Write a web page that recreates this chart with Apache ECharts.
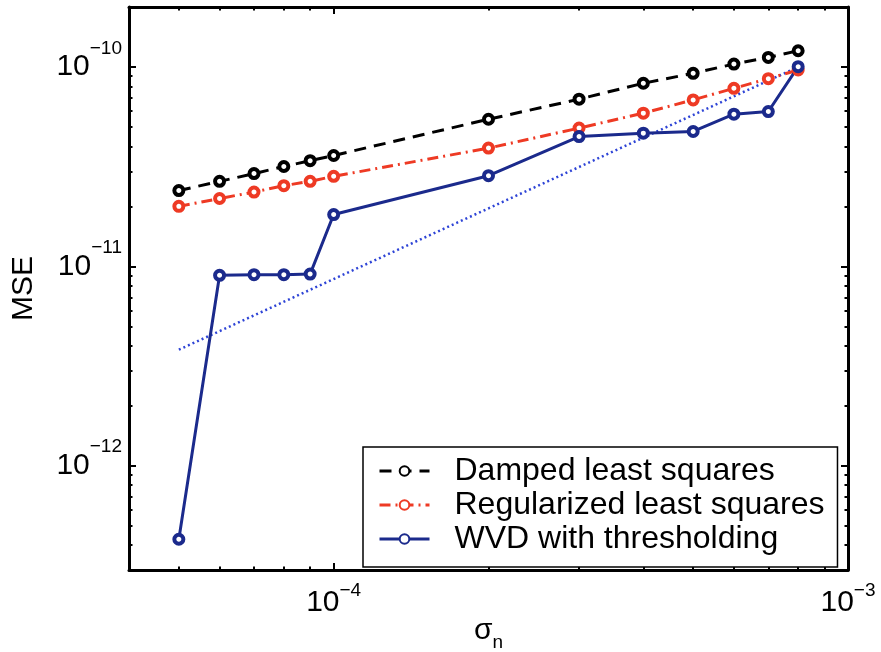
<!DOCTYPE html>
<html>
<head>
<meta charset="utf-8">
<script src="https://cdn.jsdelivr.net/npm/echarts@6/dist/echarts.min.js"></script>
<style>
  html, body { margin: 0; padding: 0; background: #fff; }
  #chart { width: 881px; height: 652px; }
</style>
</head>
<body>
<div id="chart"></div>
<script>
// Noise level sigma_n and the mean squared error of each estimator
const sigma = [5e-5, 6e-5, 7e-5, 8e-5, 9e-5, 1e-4, 2e-4, 3e-4, 4e-4, 5e-4, 6e-4, 7e-4, 8e-4];
const dampedMSE = [2.40e-11, 2.67e-11, 2.92e-11, 3.17e-11, 3.39e-11, 3.60e-11, 5.47e-11, 6.90e-11, 8.29e-11, 9.30e-11, 1.035e-10, 1.117e-10, 1.207e-10];
const regularizedMSE = [2.00e-11, 2.19e-11, 2.36e-11, 2.54e-11, 2.67e-11, 2.83e-11, 3.92e-11, 4.94e-11, 5.87e-11, 6.84e-11, 7.82e-11, 8.74e-11, 9.66e-11];
const wvdMSE = [4.28e-13, 9.02e-12, 9.09e-12, 9.09e-12, 9.15e-12, 1.82e-11, 2.85e-11, 4.48e-11, 4.66e-11, 4.75e-11, 5.80e-11, 5.98e-11, 1.004e-10];

// Dotted reference trend (end points)
const trendX = [5e-5, 8e-4];
const trendY = [3.82e-12, 1.0e-10];

// Axis extents and labelled decades
const xRange = [4e-5, 1e-3];
const yRange = [3e-13, 2e-10];
const xTickLabels = [1e-4, 1e-3];
const yTickLabels = [1e-12, 1e-11, 1e-10];

const seriesNames = ['Damped least squares', 'Regularized least squares', 'WVD with thresholding'];
const seriesColors = ['#000000', '#ee3a24', '#1b2a8c'];

const FONT = '"Liberation Sans", Arial, Helvetica, sans-serif';

// 2..9 × 10^d positions inside an extent, for the minor log ticks
function minorTicks(range) {
  const out = [];
  const d0 = Math.floor(Math.log10(range[0]));
  const d1 = Math.ceil(Math.log10(range[1]));
  for (let d = d0; d < d1; d++) {
    for (let k = 2; k <= 9; k++) {
      const v = k * Math.pow(10, d);
      if (v > range[0] * 1.0001 && v < range[1] * 0.9999) out.push(v);
    }
  }
  return out;
}

function powerLabel(value) {
  const e = Math.round(Math.log10(value));
  return '{b|10}{s|' + (e < 0 ? '\u2212' + (-e) : e) + '}';
}

const frameLine = { show: true, onZero: false, lineStyle: { color: '#000', width: 3 } };
const noLine = { show: false, onZero: false };

function logAxis(range, position, tickValues, tickLen, withLine, label, extra) {
  return Object.assign({
    type: 'log',
    logBase: 10,
    min: range[0],
    max: range[1],
    position: position,
    axisLine: withLine ? frameLine : noLine,
    axisTick: {
      show: true,
      inside: true,
      length: tickLen,
      customValues: tickValues,
      lineStyle: { color: '#000', width: 2 }
    },
    axisLabel: label || { show: false },
    splitLine: { show: false },
    minorTick: { show: false },
    minorSplitLine: { show: false }
  }, extra || {});
}

const xLabel = {
  show: true,
  customValues: xTickLabels,
  margin: 11,
  formatter: powerLabel,
  rich: {
    b: { fontSize: 30, lineHeight: 44, fontFamily: FONT, color: '#000' },
    s: { fontSize: 19, lineHeight: 20, verticalAlign: 'top', fontFamily: FONT, color: '#000' }
  }
};

const yLabel = {
  show: true,
  customValues: yTickLabels,
  margin: 7,
  formatter: powerLabel,
  rich: {
    b: { fontSize: 30, lineHeight: 56, fontFamily: FONT, color: '#000' },
    s: { fontSize: 19, lineHeight: 20, verticalAlign: 'top', fontFamily: FONT, color: '#000' }
  }
};

const minorX = minorTicks(xRange);
const minorY = minorTicks(yRange);

function estimatorSeries(i, values, dash) {
  return {
    type: 'line',
    name: seriesNames[i],
    data: sigma.map((x, k) => [x, values[k]]),
    symbol: 'circle',
    symbolSize: 9,
    z: 3,
    itemStyle: { color: '#fff', borderColor: seriesColors[i], borderWidth: 4 },
    lineStyle: { color: seriesColors[i], width: 3, type: dash }
  };
}

const option = {
  animation: false,
  backgroundColor: '#fff',
  grid: { left: 129, right: 33, top: 7, bottom: 82, containLabel: false, outerBoundsMode: 'none' },
  xAxis: [
    logAxis(xRange, 'bottom', xTickLabels, 7, true, xLabel, {
      name: '{a|\u03c3}{n|n}',
      nameLocation: 'middle',
      nameGap: 46,
      nameMoveOverlap: false,
      nameTextStyle: {
        rich: {
          a: { fontSize: 30, lineHeight: 30, verticalAlign: 'top', fontFamily: FONT, color: '#000' },
          n: { fontSize: 19, verticalAlign: 'bottom', padding: [17, 0, 0, 0], fontFamily: FONT, color: '#000' }
        }
      }
    }),
    logAxis(xRange, 'bottom', minorX, 3.5, false),
    logAxis(xRange, 'top', xTickLabels, 7, true),
    logAxis(xRange, 'top', minorX, 3.5, false)
  ],
  yAxis: [
    logAxis(yRange, 'left', yTickLabels, 7, true, yLabel, {
      name: 'MSE',
      nameLocation: 'middle',
      nameGap: 90,
      nameMoveOverlap: false,
      nameTextStyle: { fontSize: 30, lineHeight: 30, fontFamily: FONT, color: '#000' }
    }),
    logAxis(yRange, 'left', minorY, 3.5, false),
    logAxis(yRange, 'right', yTickLabels, 7, true),
    logAxis(yRange, 'right', minorY, 3.5, false)
  ],
  legend: {
    data: seriesNames,
    orient: 'vertical',
    left: 363,
    top: 447,
    padding: [8, 13, 12, 15],
    itemGap: 2,
    itemWidth: 50,
    itemHeight: 12,
    borderColor: '#000',
    borderWidth: 1.5,
    backgroundColor: '#fff',
    selectedMode: false,
    lineStyle: { width: 3 },
    textStyle: { fontSize: 32, lineHeight: 30, fontFamily: FONT, color: '#000', padding: [0, 0, 0, 20] }
  },
  series: [
    {
      type: 'line',
      name: 'trend',
      data: trendX.map((x, i) => [x, trendY[i]]),
      showSymbol: false,
      silent: true,
      z: 1,
      lineStyle: { color: '#2e44d6', width: 2.5, type: [2, 3] }
    },
    estimatorSeries(0, dampedMSE, [12, 8]),
    estimatorSeries(1, regularizedMSE, [11, 5, 2, 5]),
    estimatorSeries(2, wvdMSE, 'solid')
  ]
};

const chart = echarts.init(document.getElementById('chart'), null, { renderer: 'canvas' });
chart.setOption(option);
</script>
</body>
</html>
